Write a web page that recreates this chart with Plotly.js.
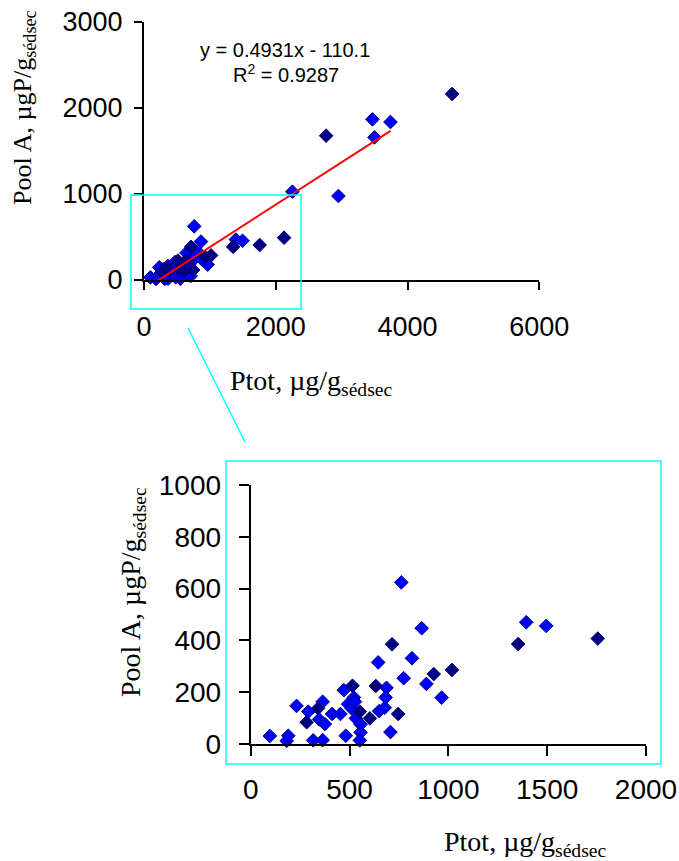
<!DOCTYPE html>
<html>
<head>
<meta charset="utf-8">
<script src="https://cdn.plot.ly/plotly-3.0.1.min.js"></script>
<style>html,body{margin:0;padding:0;background:#fff;}#chart{width:679px;height:861px;}</style>
</head>
<body>
<div id="chart"></div>
<script>
// ---- data ----
// Ptot (µg/g) and Pool A (µgP/g), lighter blue markers
const ptotA = [97, 182, 190, 232, 291, 316, 346, 364, 364, 375, 412, 454, 471, 481, 493, 510, 522, 527, 532, 556, 556, 552, 645, 650, 678, 683, 687, 707, 762, 774, 816, 865, 889, 966, 1394, 1495, 2252, 2951, 3467, 3498, 3741];
const poolA_A = [31, 12, 32, 147, 125, 14, 95, 163, 15, 77, 116, 116, 208, 32, 154, 138, 180, 163, 99, 76, 45, 14, 315, 127, 140, 180, 217, 46, 624, 254, 331, 447, 232, 179, 470, 456, 1027, 977, 1868, 1659, 1837];
// darker navy markers
const ptotB = [283, 341, 515, 552, 603, 633, 715, 746, 926, 1018, 1353, 1756, 2126, 2764, 4677];
const poolA_B = [84, 138, 225, 125, 99, 224, 385, 116, 270, 286, 386, 407, 492, 1678, 2163];
// linear trend (from the chart's equation)
const slope = 0.4931;
const intercept = -110.1;
const trendRange = [97, 3741];
// tick values
const topXTicks = [0, 2000, 4000, 6000];
const topYTicks = [0, 1000, 2000, 3000];
const botXTicks = [0, 500, 1000, 1500, 2000];
const botYTicks = [0, 200, 400, 600, 800, 1000];

// ---- layout helpers ----
const W = 679, H = 861;
const px = v => v / W;
const py = v => 1 - v / H;

const trendY = trendRange.map(x => slope * x + intercept);

const mk = (fill) => ({symbol: 'diamond', size: 10.5, color: fill, line: {color: '#000080', width: 1}});
const traces = [];
[['x', 'y'], ['x2', 'y2']].forEach(([xa, ya]) => {
  traces.push({x: ptotA, y: poolA_A, xaxis: xa, yaxis: ya, type: 'scatter', mode: 'markers', marker: mk('#0000FF'), cliponaxis: false, hoverinfo: 'x+y'});
  traces.push({x: ptotB, y: poolA_B, xaxis: xa, yaxis: ya, type: 'scatter', mode: 'markers', marker: mk('#000080'), cliponaxis: false, hoverinfo: 'x+y'});
});
traces.push({x: trendRange, y: trendY, xaxis: 'x', yaxis: 'y', type: 'scatter', mode: 'lines', line: {color: '#FF0000', width: 2}, cliponaxis: false, hoverinfo: 'skip'});

const tickFont = (s) => ({family: 'Liberation Sans, Arial, sans-serif', size: s, color: '#000'});
const serif = (s) => ({family: 'Liberation Serif, Times New Roman, serif', size: s, color: '#000'});
const axBase = {showline: true, linecolor: '#000', linewidth: 2, ticks: 'outside', tickwidth: 2, tickcolor: '#000', showgrid: false, zeroline: false, fixedrange: true};

const layout = {
  width: W, height: H,
  margin: {l: 0, r: 0, t: 0, b: 0},
  paper_bgcolor: '#fff', plot_bgcolor: 'rgba(0,0,0,0)',
  showlegend: false,
  xaxis: Object.assign({}, axBase, {domain: [px(144), px(539.3)], range: [0, 6000], tickvals: topXTicks, anchor: 'y', ticklen: 8, tickfont: tickFont(27), ticklabelstandoff: 14}),
  yaxis: Object.assign({}, axBase, {domain: [py(280), py(22)], range: [0, 3000], tickvals: topYTicks, anchor: 'x', ticklen: 8, tickfont: tickFont(27), ticklabelstandoff: 6}),
  xaxis2: Object.assign({}, axBase, {domain: [px(250.7), px(646)], range: [0, 2000], tickvals: botXTicks, anchor: 'y2', ticklen: 10, tickfont: tickFont(28), ticklabelstandoff: 9}),
  yaxis2: Object.assign({}, axBase, {domain: [py(744), py(485)], range: [0, 1000], tickvals: botYTicks, anchor: 'x2', ticklen: 10, tickfont: tickFont(28), ticklabelstandoff: 12}),
  shapes: [
    {type: 'rect', xref: 'paper', yref: 'paper', x0: px(131), x1: px(301), y0: py(309), y1: py(195), line: {color: '#00FFFF', width: 1.5}},
    {type: 'rect', xref: 'paper', yref: 'paper', x0: px(226), x1: px(661), y0: py(764), y1: py(461), line: {color: '#00FFFF', width: 1.5}},
    {type: 'line', xref: 'paper', yref: 'paper', x0: px(188), y0: py(328), x1: px(245), y1: py(442), line: {color: '#00FFFF', width: 1.5}}
  ],
  annotations: [
    {text: 'y = 0.4931x - 110.1', xref: 'paper', yref: 'paper', x: px(285), y: py(50), xanchor: 'center', yanchor: 'middle', showarrow: false, font: tickFont(20)},
    {text: 'R<sup>2</sup> = 0.9287', xref: 'paper', yref: 'paper', x: px(286), y: py(74), xanchor: 'center', yanchor: 'middle', showarrow: false, font: tickFont(20)},
    {text: 'Pool A, µgP/g<sub>sédsec</sub>', xref: 'paper', yref: 'paper', x: px(24), y: py(108), textangle: -90, xanchor: 'center', yanchor: 'middle', showarrow: false, font: serif(26)},
    {text: 'Ptot, µg/g<sub>sédsec</sub>', xref: 'paper', yref: 'paper', x: px(311), y: py(382), xanchor: 'center', yanchor: 'middle', showarrow: false, font: serif(28)},
    {text: 'Pool A, µgP/g<sub>sédsec</sub>', xref: 'paper', yref: 'paper', x: px(132), y: py(592), textangle: -90, xanchor: 'center', yanchor: 'middle', showarrow: false, font: serif(28)},
    {text: 'Ptot, µg/g<sub>sédsec</sub>', xref: 'paper', yref: 'paper', x: px(525), y: py(843), xanchor: 'center', yanchor: 'middle', showarrow: false, font: serif(28)}
  ]
};

Plotly.newPlot('chart', traces, layout, {staticPlot: true, displayModeBar: false});
</script>
</body>
</html>
